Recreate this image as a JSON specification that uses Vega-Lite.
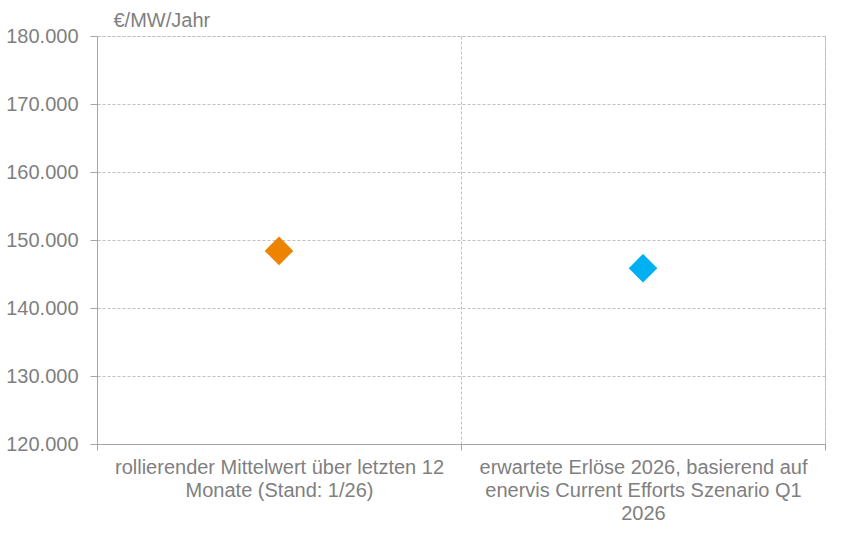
{
  "$schema": "https://vega.github.io/schema/vega-lite/v6.json",
  "width": 728,
  "height": 408,
  "padding": {"left": 5, "top": 10, "right": 22, "bottom": 5},
  "config": {
    "view": {"stroke": "#bfbfbf", "strokeDash": [3, 2], "strokeWidth": 1},
    "font": "Liberation Sans"
  },
  "data": {
    "values": [
      {"kategorie": "rollierender Mittelwert über letzten 12 Monate (Stand: 1/26)", "wert": 148400},
      {"kategorie": "erwartete Erlöse 2026, basierend auf enervis Current Efforts Szenario Q1 2026", "wert": 145850}
    ]
  },
  "mark": {"type": "point", "shape": "diamond", "filled": true, "size": 820, "opacity": 1},
  "encoding": {
    "x": {
      "field": "kategorie",
      "type": "nominal",
      "sort": null,
      "scale": {"paddingInner": 0, "paddingOuter": 0},
      "axis": {
        "title": null,
        "labelAngle": 0,
        "tickBand": "extent",
        "grid": true,
        "gridColor": "#bfbfbf",
        "gridDash": [3, 2],
        "domainColor": "#a6a6a6",
        "tickColor": "#a6a6a6",
        "tickSize": 6,
        "labelColor": "#7f7f7f",
        "labelFontSize": 20,
        "labelFont": "Liberation Sans",
        "labelLineHeight": 23,
        "labelPadding": 7,
        "labelLimit": 400,
        "labelExpr": "datum.value == 'rollierender Mittelwert über letzten 12 Monate (Stand: 1/26)' ? ['rollierender Mittelwert über letzten 12', 'Monate (Stand: 1/26)'] : datum.value == 'erwartete Erlöse 2026, basierend auf enervis Current Efforts Szenario Q1 2026' ? ['erwartete Erlöse 2026, basierend auf', 'enervis Current Efforts Szenario Q1', '2026'] : ''"
      }
    },
    "y": {
      "field": "wert",
      "type": "quantitative",
      "scale": {"domain": [120000, 180000], "zero": false, "nice": false},
      "axis": {
        "values": [120000, 130000, 140000, 150000, 160000, 170000, 180000],
        "labelExpr": "replace(format(datum.value, ','), ',', '.')",
        "title": "€/MW/Jahr",
        "titleAngle": 0,
        "titleAlign": "left",
        "titleBaseline": "alphabetic",
        "titleX": 16,
        "titleY": -10,
        "titleColor": "#7f7f7f",
        "titleFontSize": 20,
        "titleFontWeight": "normal",
        "titleFont": "Liberation Sans",
        "grid": true,
        "gridColor": "#bfbfbf",
        "gridDash": [3, 2],
        "domainColor": "#a6a6a6",
        "tickColor": "#a6a6a6",
        "tickSize": 7,
        "labelColor": "#7f7f7f",
        "labelFontSize": 20,
        "labelFont": "Liberation Sans",
        "labelPadding": 12
      }
    },
    "color": {
      "field": "kategorie",
      "type": "nominal",
      "scale": {
        "domain": ["rollierender Mittelwert über letzten 12 Monate (Stand: 1/26)", "erwartete Erlöse 2026, basierend auf enervis Current Efforts Szenario Q1 2026"],
        "range": ["#ED8300", "#00B0F0"]
      },
      "legend": null
    }
  }
}
